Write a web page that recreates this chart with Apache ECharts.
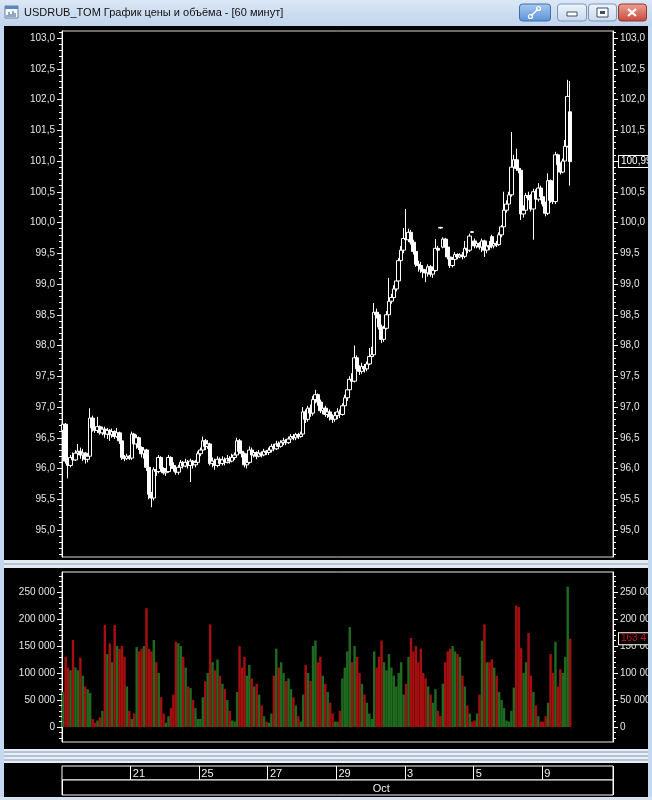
<!DOCTYPE html>
<html><head><meta charset="utf-8">
<script src="https://cdn.jsdelivr.net/npm/echarts@6/dist/echarts.min.js"></script>
<style>html,body{margin:0;padding:0;background:#000}#c{width:652px;height:800px}</style>
</head><body><div id="c"></div>
<script>
// ---------- data ----------
const days = ['2023-09-19','2023-09-20','2023-09-21','2023-09-22','2023-09-25','2023-09-26','2023-09-27','2023-09-28','2023-09-29','2023-10-02','2023-10-03','2023-10-04','2023-10-05','2023-10-06','2023-10-09'];
const dayCandles = [14,14,14,14,14,14,14,14,14,14,14,14,14,14,12];
const hours = ['10:00','11:00','12:00','13:00','14:00','15:00','16:00','17:00','18:00','19:00','20:00','21:00','22:00','23:00'];
const shownDays = ['2023-09-21','2023-09-25','2023-09-27','2023-09-29','2023-10-03','2023-10-05','2023-10-09'];
const monthLabel = 'Oct';

const opens = [
96.62,96.72,96.12,96.05,96.18,96.14,96.25,96.28,96.22,96.25,96.15,96.20,96.82,96.66,
96.62,96.68,96.58,96.64,96.56,96.62,96.55,96.60,96.52,96.58,96.45,96.18,96.16,96.20,
96.17,96.56,96.40,96.50,96.34,96.24,96.30,96.02,95.58,95.52,95.98,95.95,96.18,96.00,
95.93,95.95,96.18,96.05,96.00,95.94,96.02,96.10,96.04,96.10,96.05,96.12,96.06,96.10,
96.24,96.30,96.45,96.36,96.40,96.08,96.12,96.05,96.15,96.08,96.14,96.10,96.16,96.12,
96.18,96.22,96.45,96.28,96.24,96.06,96.10,96.30,96.22,96.26,96.20,96.25,96.22,96.28,
96.26,96.30,96.36,96.32,96.40,96.36,96.42,96.45,96.42,96.48,96.52,96.50,96.55,96.52,
96.56,96.92,96.80,96.98,96.90,97.12,97.20,97.08,96.94,96.98,96.88,96.92,96.84,96.80,
96.86,96.92,96.88,97.02,97.15,97.28,97.45,97.42,97.80,97.62,97.58,97.66,97.62,97.70,
97.82,97.85,98.54,98.50,98.30,98.10,98.28,98.50,98.72,98.78,98.92,99.05,99.38,99.55,
99.74,99.72,99.84,99.68,99.53,99.32,99.30,99.24,99.20,99.18,99.28,99.16,99.22,99.58,
99.92,99.60,99.73,99.60,99.44,99.30,99.40,99.48,99.44,99.47,99.45,99.58,99.55,99.85,
99.70,99.62,99.66,99.60,99.70,99.55,99.62,99.77,99.62,99.66,99.64,99.80,99.93,100.20,
100.30,100.45,100.90,101.02,100.88,100.85,100.14,100.20,100.44,100.40,100.22,100.50,100.38,100.56,
100.42,100.30,100.15,100.68,100.36,100.34,101.10,100.94,100.82,101.00,101.24,101.80];
const closes = [
96.72,96.12,96.05,96.18,96.14,96.25,96.28,96.22,96.25,96.15,96.20,96.82,96.66,96.62,
96.68,96.58,96.64,96.56,96.62,96.55,96.60,96.52,96.58,96.45,96.18,96.16,96.20,96.17,
96.56,96.40,96.50,96.34,96.24,96.30,96.02,95.58,95.52,95.98,95.95,96.18,96.00,95.93,
95.95,96.18,96.05,96.00,95.94,96.02,96.10,96.04,96.10,96.05,96.12,96.06,96.10,96.24,
96.30,96.45,96.36,96.40,96.08,96.12,96.05,96.15,96.08,96.14,96.10,96.16,96.12,96.18,
96.22,96.45,96.28,96.24,96.06,96.10,96.30,96.22,96.26,96.20,96.25,96.22,96.28,96.26,
96.30,96.36,96.32,96.40,96.36,96.42,96.45,96.42,96.48,96.52,96.50,96.55,96.52,96.56,
96.92,96.80,96.98,96.90,97.12,97.20,97.08,96.94,96.98,96.88,96.92,96.84,96.80,96.86,
96.92,96.88,97.02,97.15,97.28,97.45,97.42,97.80,97.62,97.58,97.66,97.62,97.70,97.82,
97.85,98.54,98.50,98.30,98.10,98.28,98.50,98.72,98.78,98.92,99.05,99.38,99.55,99.74,
99.72,99.84,99.68,99.53,99.32,99.30,99.24,99.20,99.18,99.28,99.16,99.22,99.58,99.55,
99.91,99.73,99.60,99.44,99.30,99.40,99.48,99.44,99.47,99.45,99.58,99.55,99.78,99.84,
99.62,99.66,99.60,99.70,99.55,99.62,99.60,99.62,99.66,99.64,99.80,99.93,100.20,100.30,
100.45,100.90,101.02,100.88,100.85,100.14,100.20,100.44,100.40,100.22,100.50,100.38,100.56,100.42,
100.30,100.15,100.68,100.36,100.34,101.10,100.94,100.82,101.00,101.24,102.05,100.99];
const highs = [
96.76,96.74,96.18,96.22,96.26,96.30,96.40,96.34,96.32,96.27,96.24,96.98,96.86,96.70,
96.84,96.70,96.68,96.68,96.66,96.64,96.65,96.62,96.66,96.60,96.48,96.22,96.24,96.22,
96.60,96.58,96.55,96.52,96.36,96.34,96.32,96.05,95.62,96.02,96.05,96.22,96.20,96.02,
96.00,96.22,96.20,96.10,96.04,96.06,96.14,96.12,96.16,96.14,96.16,96.14,96.14,96.28,
96.34,96.52,96.48,96.46,96.42,96.18,96.16,96.20,96.18,96.20,96.18,96.22,96.20,96.24,
96.26,96.50,96.48,96.32,96.26,96.14,96.36,96.34,96.30,96.28,96.30,96.28,96.32,96.30,
96.34,96.40,96.40,96.45,96.44,96.46,96.50,96.48,96.52,96.56,96.56,96.58,96.58,96.60,
97.00,96.96,97.02,97.04,97.18,97.28,97.22,97.12,97.04,97.02,96.98,96.96,96.88,96.92,
96.98,96.96,97.06,97.20,97.34,97.50,97.55,98.00,97.84,97.68,97.72,97.70,97.74,97.96,
97.98,98.69,98.60,98.54,98.34,98.32,98.56,99.10,98.84,98.98,99.10,99.42,99.62,99.91,
100.22,99.90,99.88,99.72,99.56,99.38,99.36,99.28,99.24,99.32,99.31,99.26,99.73,99.62,
99.93,99.76,99.75,99.62,99.46,99.44,99.52,99.50,99.50,99.52,99.70,99.62,99.82,99.86,
99.74,99.70,99.68,99.74,99.72,99.66,99.70,99.80,99.72,99.70,99.84,99.96,100.50,100.36,
100.50,101.47,101.10,101.20,100.95,100.88,100.28,100.48,100.50,100.46,100.55,100.54,100.64,100.60,
100.48,100.34,100.80,100.70,100.40,101.15,101.12,100.98,101.04,101.34,102.32,102.30];
const lows = [
96.58,96.08,95.84,96.02,96.10,96.12,96.22,96.16,96.12,96.08,96.10,96.18,96.60,96.58,
96.58,96.55,96.54,96.50,96.48,96.45,96.50,96.48,96.50,96.40,96.14,96.12,96.14,96.14,
96.14,96.36,96.32,96.30,96.18,96.16,95.96,95.50,95.37,95.48,95.88,95.92,95.96,95.90,
95.88,95.93,96.00,95.95,95.90,95.90,96.00,96.00,96.02,96.00,95.78,96.00,96.02,96.06,
96.20,96.28,96.30,96.32,96.05,96.02,95.98,96.02,96.04,96.05,96.05,96.08,96.08,96.10,
96.14,96.20,96.24,96.18,96.02,96.00,96.08,96.18,96.18,96.15,96.18,96.18,96.20,96.22,
96.22,96.26,96.28,96.30,96.32,96.34,96.38,96.38,96.40,96.44,96.46,96.46,96.48,96.50,
96.52,96.74,96.76,96.84,96.86,97.06,97.02,96.90,96.88,96.84,96.82,96.78,96.74,96.76,
96.80,96.82,96.86,96.98,97.10,97.24,97.36,97.40,97.56,97.52,97.54,97.56,97.58,97.68,
97.78,97.82,98.44,98.26,98.04,98.06,98.26,98.48,98.68,98.74,98.88,99.00,99.34,99.50,
99.66,99.68,99.64,99.48,99.28,99.20,99.18,99.10,99.03,99.12,99.12,99.10,99.20,99.48,
99.90,99.58,99.56,99.40,99.26,99.27,99.36,99.40,99.42,99.40,99.42,99.50,99.52,99.83,
99.58,99.58,99.56,99.52,99.44,99.50,99.55,99.58,99.58,99.60,99.62,99.76,99.90,100.16,
100.24,100.42,100.86,100.84,100.80,100.04,100.08,100.16,100.36,100.18,99.72,100.32,100.34,100.36,
100.26,100.10,100.12,100.32,100.30,100.30,100.90,100.78,100.80,100.96,101.22,100.60];
const volumes = [
65000,130000,110000,105000,161000,110000,105000,128000,95000,75000,70000,63000,15000,8000,
12000,18000,30000,189000,135000,155000,120000,189000,150000,145000,150000,130000,75000,30000,
15000,25000,148000,140000,145000,150000,220000,145000,140000,161000,120000,100000,55000,25000,
8000,20000,35000,60000,158000,155000,150000,130000,110000,75000,72000,50000,35000,15000,
15000,55000,85000,100000,190000,120000,105000,125000,95000,80000,70000,50000,30000,12000,
10000,65000,150000,110000,130000,95000,115000,90000,75000,80000,60000,40000,20000,10000,
8000,25000,95000,145000,110000,120000,100000,85000,90000,70000,55000,40000,20000,10000,
60000,115000,100000,85000,150000,160000,120000,130000,95000,80000,65000,45000,25000,10000,
10000,30000,90000,110000,140000,185000,120000,150000,130000,100000,80000,60000,45000,25000,
15000,140000,110000,130000,160000,120000,105000,135000,110000,95000,75000,100000,120000,60000,
80000,130000,165000,140000,150000,120000,145000,100000,90000,75000,60000,45000,70000,30000,
20000,80000,120000,140000,145000,150000,140000,135000,130000,95000,75000,40000,25000,10000,
12000,25000,60000,160000,190000,120000,120000,125000,110000,95000,65000,50000,35000,12000,
10000,30000,73000,225000,222000,146000,100000,120000,174000,95000,65000,40000,20000,10000,
10000,20000,45000,135000,100000,158000,75000,107000,100000,130000,260000,163470];

const priceTicks = [95.0,95.5,96.0,96.5,97.0,97.5,98.0,98.5,99.0,99.5,100.0,100.5,101.0,101.5,102.0,102.5,103.0];
const volTicks = [0,50000,100000,150000,200000,250000];

// ---------- build ----------
const PMIN = 94.561, PMAX = 103.114;
const VMIN = -27778, VMAX = 287037;
const PAD = 17;
const cats = [], dayStart = [];
days.forEach((d, di) => { dayStart.push(cats.length); for (let h = 0; h < dayCandles[di]; h++) cats.push(d + ' ' + hours[h]); });
const N = cats.length;
for (let k = 0; k < PAD; k++) cats.push('pad' + k);

const priceMinor = []; for (let k = 946; k <= 1031; k++) priceMinor.push(k / 10);
const volMinor = []; for (let k = -2; k <= 28; k++) volMinor.push(k * 10000);

const dayLabelIdx = new Set(); days.forEach((d, i) => { if (shownDays.includes(d)) dayLabelIdx.add(dayStart[i]); });
let monthIdx = -1; for (let i = 0; i < days.length; i++) { if (days[i].slice(5,7) === '10') { monthIdx = dayStart[i]; break; } }

const candleData = opens.map((o, i) => [o, closes[i], lows[i], highs[i]]);
const RED = '#a50f0f', GREEN = '#1f6a1f';
const volData = volumes.map((v, i) => ({ value: v, itemStyle: { color: closes[i] >= opens[i] ? GREEN : RED } }));

const FONT = 'Liberation Sans, Arial, sans-serif';
const LBL = '#e6e6e6';
const fmtPrice = v => (+v).toFixed(1).replace('.', ',');
const fmtVol = v => String(Math.round(v)).replace(/\B(?=(\d{3})+(?!\d))/g, ' ');

function yAx(grid, pos, min, max, ticks, minor, fmt, major) {
  return {
    type: 'value', gridIndex: grid, position: pos, min: min, max: max, scale: true,
    axisLine: { show: major, lineStyle: { color: '#ffffff', width: 1 } },
    axisTick: { show: true, length: major ? 5 : 3, customValues: major ? ticks : minor, lineStyle: { color: '#ffffff' } },
    axisLabel: { show: major, customValues: ticks, formatter: fmt, color: LBL, fontSize: 10, fontFamily: FONT, margin: 7 },
    splitLine: { show: false }
  };
}

const gbase = { left: 62, right: 39, show: true, borderWidth: 1, backgroundColor: '#000', outerBoundsMode: 'none', containLabel: false };
const grids = [
  Object.assign({}, gbase, { top: 31, height: 526, borderColor: '#d8d8d8' }),
  Object.assign({}, gbase, { top: 572, height: 170, borderColor: '#e8e8e8' }),
  Object.assign({}, gbase, { top: 766, height: 14, borderColor: '#ffffff' }),
  Object.assign({}, gbase, { top: 780, height: 15, borderColor: '#ffffff' })
];

const hiddenX = g => ({ type: 'category', gridIndex: g, data: cats, show: false, boundaryGap: true });
const dateX = (g, isMonth) => ({
  type: 'category', gridIndex: g, data: cats, position: 'bottom', boundaryGap: true,
  axisLine: { show: false }, axisTick: { show: false },
  axisLabel: {
    inside: true, align: 'left', verticalAlign: 'bottom', margin: 1, padding: [0, 0, 0, 1],
    color: '#f0f0f0', fontSize: 11, fontFamily: FONT,
    interval: (idx) => isMonth ? idx === monthIdx : dayLabelIdx.has(idx),
    formatter: (v) => isMonth ? monthLabel : String(parseInt(v.slice(8, 10), 10))
  },
  splitLine: { show: true, interval: (idx) => isMonth ? idx === monthIdx : dayLabelIdx.has(idx), lineStyle: { color: '#ffffff', width: 1 } }
});

const G = [];
// window chrome
G.push({ type: 'rect', shape: { x: 0, y: 0, width: 652, height: 26 }, z: 100,
  style: { fill: new echarts.graphic.LinearGradient(0, 0, 0, 1, [{ offset: 0, color: '#dbe7f5' }, { offset: 1, color: '#bfd4ec' }]) } });
G.push({ type: 'rect', shape: { x: 0, y: 26, width: 4, height: 774 }, z: 100, style: { fill: '#c4d8ef' } });
G.push({ type: 'rect', shape: { x: 648, y: 26, width: 4, height: 774 }, z: 100, style: { fill: '#c4d8ef' } });
G.push({ type: 'rect', shape: { x: 0, y: 797, width: 652, height: 3 }, z: 100, style: { fill: '#d4e2f2' } });
// splitters
G.push({ type: 'rect', shape: { x: 4, y: 560, width: 644, height: 8 }, z: 100, style: { fill: '#e4ebf3' } });
G.push({ type: 'rect', shape: { x: 4, y: 563, width: 644, height: 2 }, z: 100, style: { fill: '#b7c4d3' } });
G.push({ type: 'rect', shape: { x: 4, y: 749, width: 644, height: 14 }, z: 100, style: { fill: '#e6edf5' } });
[751, 755, 759].forEach(yy => G.push({ type: 'rect', shape: { x: 4, y: yy, width: 644, height: 2 }, z: 100, style: { fill: '#b3c1d1' } }));
// icon
G.push({ type: 'rect', shape: { x: 5, y: 6, width: 13, height: 12 }, z: 101, style: { fill: '#f4f8fc', stroke: '#6d7f95', lineWidth: 1 } });
G.push({ type: 'rect', shape: { x: 5, y: 6, width: 13, height: 3 }, z: 101, style: { fill: '#5c86c0' } });
[[7,15],[9,12],[11,14],[13,11],[15,13]].forEach(p => G.push({ type: 'line', shape: { x1: p[0], y1: 17, x2: p[0], y2: p[1] }, z: 102, style: { stroke: '#37557c', lineWidth: 1 } }));
// title
G.push({ type: 'text', x: 24, y: 13, z: 101, style: { text: 'USDRUB_TOM График цены и объёма - [60 минут]', fill: '#111', font: '11px "Liberation Sans", Arial, sans-serif', verticalAlign: 'middle' } });
// buttons
const btn = (x, w, c1, c2, stroke) => G.push({ type: 'rect', shape: { x: x, y: 4, width: w, height: 17, r: 3 }, z: 101,
  style: { fill: new echarts.graphic.LinearGradient(0, 0, 0, 1, [{ offset: 0, color: c1 }, { offset: 1, color: c2 }]), stroke: stroke, lineWidth: 1 } });
btn(519.5, 31, '#a9c9f0', '#5b91d6', '#3f6ea8');
btn(557.5, 29, '#eef4fb', '#c9d9ec', '#7f98b8');
btn(588.5, 28, '#eef4fb', '#c9d9ec', '#7f98b8');
btn(618.5, 28, '#eea394', '#c6483a', '#8d3a2f');
// link glyph
G.push({ type: 'line', shape: { x1: 531, y1: 16, x2: 538, y2: 9 }, z: 102, style: { stroke: '#fff', lineWidth: 1.5 } });
G.push({ type: 'circle', shape: { cx: 530.5, cy: 16.5, r: 2 }, z: 102, style: { fill: 'none', stroke: '#fff', lineWidth: 1.2 } });
G.push({ type: 'circle', shape: { cx: 538.5, cy: 8.5, r: 2 }, z: 102, style: { fill: 'none', stroke: '#fff', lineWidth: 1.2 } });
// minimize glyph
G.push({ type: 'rect', shape: { x: 567, y: 12, width: 10, height: 4 }, z: 102, style: { fill: '#fff', stroke: '#3c4f68', lineWidth: 1 } });
// maximize glyph
G.push({ type: 'rect', shape: { x: 597, y: 8, width: 11, height: 9 }, z: 102, style: { fill: '#fff', stroke: '#3c4f68', lineWidth: 1 } });
G.push({ type: 'rect', shape: { x: 600, y: 11, width: 5, height: 3 }, z: 103, style: { fill: '#3c4f68' } });
// close glyph
G.push({ type: 'line', shape: { x1: 628, y1: 9, x2: 636, y2: 16 }, z: 102, style: { stroke: '#fff', lineWidth: 2.2 } });
G.push({ type: 'line', shape: { x1: 636, y1: 9, x2: 628, y2: 16 }, z: 102, style: { stroke: '#fff', lineWidth: 2.2 } });

const markLbl = (color, fmt) => ({
  silent: true, symbol: ['none', 'none'], lineStyle: { color: 'rgba(0,0,0,0)', width: 0, type: 'solid' },
  label: { show: true, position: 'end', distance: 6, formatter: fmt,
    color: color, fontSize: 10, fontFamily: FONT, borderColor: '#fff', borderWidth: 1, padding: [1, 2, 0, 2], backgroundColor: '#000' },
  emphasis: { disabled: true }
});

const option = {
  animation: false,
  backgroundColor: '#000',
  textStyle: { fontFamily: FONT },
  grid: grids,
  xAxis: [hiddenX(0), hiddenX(1), dateX(2, false), dateX(3, true)],
  yAxis: [
    yAx(0, 'left', PMIN, PMAX, priceTicks, priceMinor, fmtPrice, true),
    yAx(0, 'left', PMIN, PMAX, priceTicks, priceMinor, fmtPrice, false),
    yAx(0, 'right', PMIN, PMAX, priceTicks, priceMinor, fmtPrice, true),
    yAx(0, 'right', PMIN, PMAX, priceTicks, priceMinor, fmtPrice, false),
    yAx(1, 'left', VMIN, VMAX, volTicks, volMinor, fmtVol, true),
    yAx(1, 'left', VMIN, VMAX, volTicks, volMinor, fmtVol, false),
    yAx(1, 'right', VMIN, VMAX, volTicks, volMinor, fmtVol, true),
    yAx(1, 'right', VMIN, VMAX, volTicks, volMinor, fmtVol, false),
    { type: 'value', gridIndex: 2, show: false },
    { type: 'value', gridIndex: 3, show: false }
  ],
  series: [
    {
      type: 'candlestick', xAxisIndex: 0, yAxisIndex: 0, data: candleData, barWidth: 4,
      itemStyle: { color: '#000', color0: '#fff', borderColor: '#fff', borderColor0: '#fff', borderWidth: 1 },
      markLine: Object.assign(markLbl('#fff', (p) => (+p.value).toFixed(2).replace('.', ',')), { data: [{ yAxis: closes[N - 1] }] })
    },
    {
      type: 'bar', xAxisIndex: 1, yAxisIndex: 4, data: volData, barCategoryGap: '0%', barGap: '0%',
      markLine: Object.assign(markLbl('#d01414', (p) => fmtVol(p.value)), { data: [{ yAxis: volumes[N - 1] }] })
    }
  ],
  graphic: G
};
const chart = echarts.init(document.getElementById('c'));
chart.setOption(option);
</script></body></html>
